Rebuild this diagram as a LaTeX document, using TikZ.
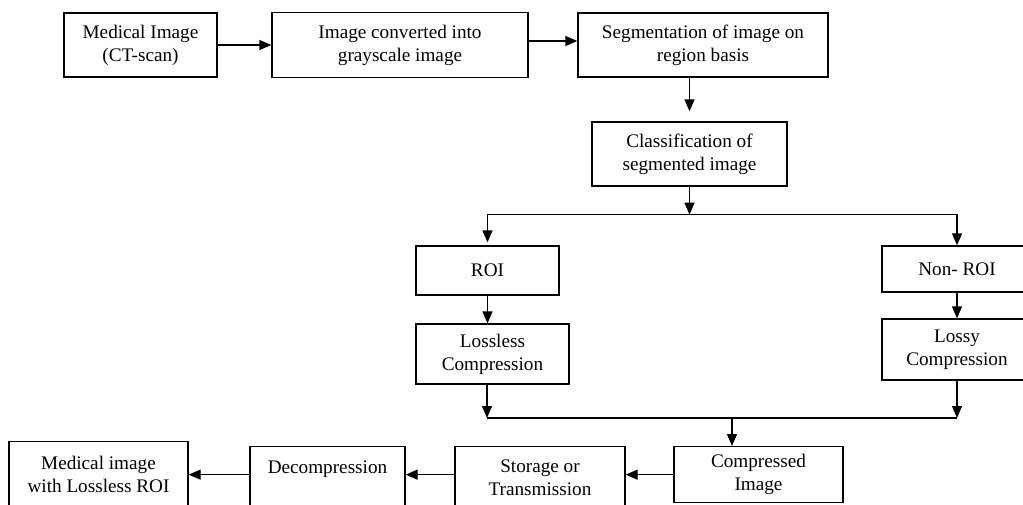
\documentclass[tikz,border=0pt]{standalone}
\usepackage{fontspec}
\setmainfont{Liberation Serif}
\usetikzlibrary{arrows.meta}
\begin{document}
\begin{tikzpicture}[
  box/.style={rectangle, draw, align=center, font=\fontsize{9.6}{11.5}\selectfont},
  >={Triangle[length=6pt,width=5pt]},
  line width=0.65pt
]
\path[use as bounding box] (0,0) rectangle (511.5pt,-252pt);
\clip (0,0) rectangle (511.5pt,-252pt);

\node[box, minimum width=76.5pt, minimum height=32pt] (ct) at (70.25pt,-22.5pt) {Medical Image\\(CT-scan)};
\node[box, minimum width=128pt, minimum height=32.5pt, right of=ct, node distance=129.75pt] (gray) {Image converted into\\grayscale image};
\node[box, minimum width=125pt, minimum height=32pt, right of=gray, node distance=151.5pt] (seg) {Segmentation of image on\\region basis};
\node[box, minimum width=97.5pt, minimum height=32pt, below of=seg, node distance=54.5pt, xshift=-6.75pt] (cls) {Classification of\\segmented image};
\node[box, minimum width=71.5pt, minimum height=24.5pt, below of=cls, node distance=58.25pt, xshift=-101pt] (roi) {ROI};
\node[box, minimum width=75pt, minimum height=23pt, below of=cls, node distance=57.5pt, xshift=133.75pt] (nonroi) {Non- ROI};
\node[box, minimum width=76.5pt, minimum height=30pt, below of=roi, node distance=41.75pt, xshift=2.5pt] (lossless) {Lossless\\Compression};
\node[box, minimum width=75pt, minimum height=30.5pt, below of=nonroi, node distance=40.25pt] (lossy) {Lossy\\Compression};

% bottom row, read from right to left
\node[box, anchor=north, minimum width=84.5pt, minimum height=28pt] (comp) at (379.25pt,-223pt) {Compressed\\Image};
\node[box, anchor=north, minimum width=85pt, minimum height=31.5pt] (store) at (270pt,-223pt) {Storage or\\Transmission};
\node[box, anchor=north, minimum width=77.5pt, inner ysep=3pt, text height=10.5pt, text depth=20pt] (decomp) at (163.75pt,-223pt) {Decompression};
\node[box, anchor=north, minimum width=89.5pt, minimum height=33pt] (final) at (49.25pt,-220.5pt) {Medical image\\with Lossless ROI};

\coordinate (split) at ([yshift=-14pt]cls.south);
\coordinate (mergeL) at (243.5pt,-209pt);
\coordinate (mergeR) at (478.5pt,-209pt);
\coordinate (merge) at (366pt,-209pt);

\draw[->] (ct) -- (gray);
\draw[->] ([yshift=2pt]gray.east) -- ([yshift=2pt]seg.west);
\draw[->, shorten >=5pt] (seg.south -| cls) -- (cls);
\draw[->] (cls) -- (split);
\draw[->, shorten >=1.5pt] (split) -| (roi);
\draw[->] (split) -| (nonroi);
\draw[->] (roi) -- (roi |- lossless.north);
\draw[->] (nonroi) -- (nonroi |- lossy.north);
\draw[->] (lossless.south -| mergeL) -- (mergeL);
\draw[->] (lossy.south -| mergeR) -- (mergeR);
\draw (mergeL) -- (mergeR);
\draw[->] (merge) -- (merge |- comp.north);
\draw[->] (comp.west) -- (comp.west -| store.east);
\draw[->] (comp.west -| store.west) -- (comp.west -| decomp.east);
\draw[->] (comp.west -| decomp.west) -- (comp.west -| final.east);
\end{tikzpicture}
\end{document}
